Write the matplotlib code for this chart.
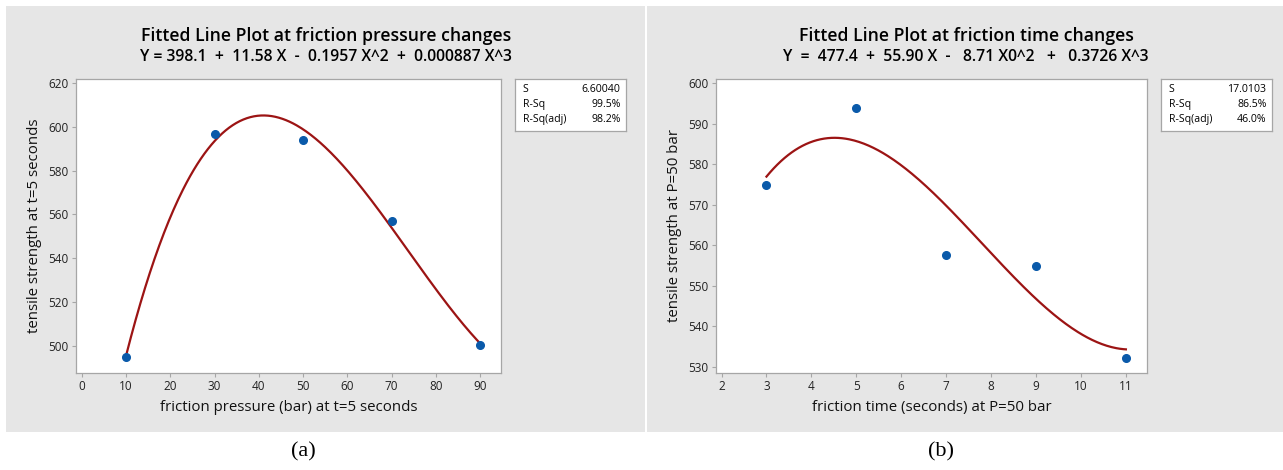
import numpy as np
import matplotlib
matplotlib.use("Agg")
import matplotlib.pyplot as plt
from matplotlib.patches import Rectangle

# data
x_pressure = [10, 30, 50, 70, 90]
ts_pressure = [495.0, 596.6, 594.2, 557.0, 500.4]
x_time = [3, 5, 7, 9, 11]
ts_time = [574.9, 593.8, 557.6, 554.9, 532.3]

stats_a = [("S", "6.60040"), ("R-Sq", "99.5%"), ("R-Sq(adj)", "98.2%")]
stats_b = [("S", "17.0103"), ("R-Sq", "86.5%"), ("R-Sq(adj)", "46.0%")]

title_a = "Fitted Line Plot at friction pressure changes"
eq_a = "Y = 398.1  +  11.58 X  -  0.1957 X^2  +  0.000887 X^3"
title_b = "Fitted Line Plot at friction time changes"
eq_b = "Y  =  477.4  +  55.90 X  -   8.71 X0^2   +   0.3726 X^3"

W, H = 1283, 470
plt.rcParams['font.family'] = ['Open Sans', 'DejaVu Sans']
fig = plt.figure(figsize=(W / 100, H / 100), dpi=100)

BG = "#e6e6e6"
FRAME = "#a6a6a6"
RED = "#9c1414"
BLUE = "#0a5aaa"


def px(x0, y0, x1, y1):
    # pixel box (top-left origin) -> figure rect
    return [x0 / W, 1 - y1 / H, (x1 - x0) / W, (y1 - y0) / H]


# gray panels
for x0, x1 in [(6, 645), (647, 1283)]:
    r = px(x0, 6, x1, 432)
    fig.patches.append(Rectangle((r[0], r[1]), r[2], r[3], transform=fig.transFigure,
                                 facecolor=BG, edgecolor="none", zorder=-1))


def panel(rect, x, y, xlim, ylim, xticks, yticks, xlab, ylab):
    ax = fig.add_axes(rect)
    ax.set_facecolor("white")
    coef = np.polyfit(x, y, 3)
    xx = np.linspace(min(x), max(x), 300)
    ax.plot(xx, np.polyval(coef, xx), color=RED, lw=1.6, zorder=2)
    ax.plot(x, y, 'o', color=BLUE, ms=5.5, zorder=3)
    ax.set_xlim(xlim)
    ax.set_ylim(ylim)
    ax.set_xticks(xticks)
    ax.set_yticks(yticks)
    for s in ax.spines.values():
        s.set_color(FRAME)
        s.set_linewidth(0.9)
    ax.tick_params(colors=FRAME, labelcolor="#222222", labelsize=8.5, length=3, width=0.8, pad=2)
    ax.set_xlabel(xlab, fontsize=10.8, color="#111111", labelpad=5)
    ax.set_ylabel(ylab, fontsize=10.8, color="#111111", labelpad=5)
    return ax


def statbox(rect, rows):
    ax = fig.add_axes(rect)
    ax.set_xticks([])
    ax.set_yticks([])
    ax.set_facecolor("white")
    for s in ax.spines.values():
        s.set_color(FRAME)
        s.set_linewidth(0.9)
    for i, (k, v) in enumerate(rows):
        yy = 0.8 - i * 0.29
        ax.text(0.07, yy, k, fontsize=7.6, va="center", ha="left", transform=ax.transAxes)
        ax.text(0.95, yy, v, fontsize=7.6, va="center", ha="right", transform=ax.transAxes)


panel(px(75.7, 79, 501, 373), x_pressure, ts_pressure, (-1.4, 94.7), (487.7, 621.8),
      range(0, 91, 10), range(500, 621, 20),
      "friction pressure (bar) at t=5 seconds", "tensile strength at t=5 seconds")
panel(px(715.7, 79, 1147, 373), x_time, ts_time, (1.87, 11.47), (528.5, 601.0),
      range(2, 12), range(530, 601, 10),
      "friction time (seconds) at P=50 bar", "tensile strength at P=50 bar")

statbox(px(515, 79, 626, 131), stats_a)
statbox(px(1161, 79, 1272, 131), stats_b)

fig.text(326 / W, 1 - 36 / H, title_a, ha="center", va="center", fontsize=12.7, weight="semibold")
fig.text(326 / W, 1 - 57 / H, eq_a, ha="center", va="center", fontsize=11.3, weight="semibold")
fig.text(966 / W, 1 - 36 / H, title_b, ha="center", va="center", fontsize=12.7, weight="semibold")
fig.text(966 / W, 1 - 57 / H, eq_b, ha="center", va="center", fontsize=11.3, weight="semibold")

fig.text(303 / W, 1 - 452 / H, "(a)", ha="center", va="center", fontsize=16, family="Liberation Serif")
fig.text(941 / W, 1 - 452 / H, "(b)", ha="center", va="center", fontsize=16, family="Liberation Serif")

fig.savefig("out.png", dpi=100)
